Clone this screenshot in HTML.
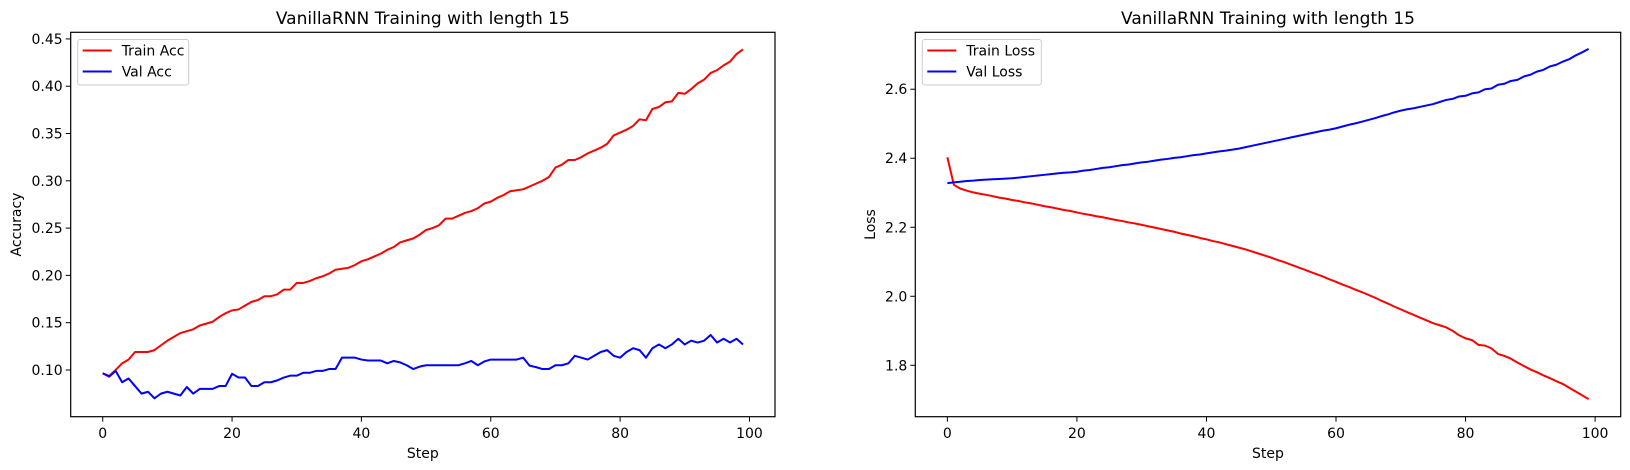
<!DOCTYPE html>
<html><head><meta charset="utf-8"><style>
html,body{margin:0;padding:0;background:#fff;}
svg{display:block;font-family:"DejaVu Sans","Liberation Sans",sans-serif;}
</style></head><body>
<svg id="c" width="1630" height="470" viewBox="0 0 1630 470" xmlns="http://www.w3.org/2000/svg"></svg>
<script>
const steps = Array.from({length:100},(_,i)=>i);
const trainAcc = [0.0965,0.0937,0.100,0.107,0.111,0.119,0.119,0.119,0.121,0.126,0.131,0.135,0.139,0.141,0.143,0.147,0.149,0.151,0.156,0.160,0.163,0.164,0.168,0.172,0.174,0.178,0.178,0.180,0.185,0.185,0.192,0.192,0.194,0.197,0.199,0.202,0.206,0.207,0.208,0.211,0.215,0.217,0.220,0.223,0.227,0.230,0.235,0.237,0.239,0.243,0.248,0.250,0.253,0.260,0.260,0.263,0.266,0.268,0.271,0.276,0.278,0.282,0.285,0.289,0.290,0.291,0.294,0.297,0.300,0.304,0.314,0.317,0.322,0.322,0.325,0.329,0.332,0.335,0.339,0.348,0.351,0.354,0.358,0.365,0.364,0.376,0.378,0.383,0.384,0.393,0.392,0.397,0.403,0.407,0.414,0.417,0.422,0.426,0.434,0.439];
const valAcc = [0.0965,0.093,0.099,0.087,0.091,0.083,0.075,0.077,0.070,0.075,0.077,0.075,0.073,0.082,0.075,0.080,0.080,0.080,0.083,0.083,0.096,0.092,0.092,0.083,0.083,0.087,0.087,0.089,0.092,0.094,0.094,0.097,0.097,0.099,0.099,0.101,0.101,0.113,0.113,0.113,0.111,0.110,0.110,0.110,0.107,0.1095,0.108,0.105,0.101,0.1035,0.105,0.105,0.105,0.105,0.105,0.105,0.107,0.1095,0.105,0.109,0.111,0.111,0.111,0.111,0.111,0.113,0.1046,0.103,0.101,0.101,0.105,0.105,0.107,0.115,0.113,0.111,0.115,0.119,0.121,0.115,0.113,0.119,0.123,0.121,0.113,0.123,0.127,0.123,0.127,0.133,0.127,0.131,0.129,0.131,0.137,0.129,0.133,0.129,0.133,0.127];
const trainLoss = [2.403,2.323,2.312,2.306,2.301,2.297,2.294,2.290,2.286,2.283,2.279,2.276,2.272,2.269,2.265,2.261,2.258,2.254,2.250,2.247,2.243,2.239,2.236,2.232,2.229,2.225,2.221,2.218,2.214,2.211,2.207,2.203,2.199,2.195,2.191,2.187,2.182,2.178,2.174,2.169,2.165,2.160,2.156,2.151,2.146,2.141,2.136,2.130,2.124,2.118,2.112,2.105,2.099,2.092,2.085,2.078,2.071,2.064,2.057,2.049,2.042,2.034,2.027,2.019,2.012,2.004,1.996,1.987,1.979,1.970,1.962,1.954,1.946,1.938,1.930,1.922,1.916,1.910,1.900,1.887,1.878,1.873,1.859,1.857,1.849,1.833,1.827,1.819,1.808,1.798,1.788,1.780,1.771,1.763,1.754,1.746,1.735,1.724,1.713,1.702];
const valLoss = [2.328,2.330,2.332,2.334,2.335,2.337,2.338,2.339,2.340,2.341,2.342,2.344,2.346,2.348,2.350,2.352,2.354,2.356,2.358,2.359,2.361,2.364,2.366,2.369,2.372,2.374,2.377,2.380,2.382,2.385,2.388,2.390,2.393,2.396,2.398,2.401,2.403,2.406,2.409,2.411,2.414,2.417,2.420,2.422,2.425,2.428,2.432,2.436,2.440,2.444,2.448,2.452,2.456,2.460,2.464,2.468,2.472,2.476,2.480,2.483,2.487,2.492,2.497,2.501,2.506,2.511,2.516,2.522,2.527,2.533,2.538,2.542,2.545,2.549,2.553,2.557,2.563,2.569,2.572,2.579,2.581,2.588,2.591,2.600,2.602,2.613,2.616,2.624,2.627,2.637,2.642,2.651,2.656,2.666,2.671,2.680,2.687,2.698,2.707,2.717];
const xTicks = [0,20,40,60,80,100];
const accTicks = [0.10,0.15,0.20,0.25,0.30,0.35,0.40,0.45];
const lossTicks = [1.8,2.0,2.2,2.4,2.6];

const NS="http://www.w3.org/2000/svg";
const svg=document.getElementById('c');
function mk(tag,attrs,parent){const e=document.createElementNS(NS,tag);for(const k in attrs)e.setAttribute(k,attrs[k]);(parent||svg).appendChild(e);return e;}

function panel(o){
  const g=mk('g',{});
  
  
  const L=o.left,R=o.right,T=32.3,B=416.7;
  const xs=v=>L+(v-o.xmin)/(o.xmax-o.xmin)*(R-L);
  const ys=v=>B-(v-o.ymin)/(o.ymax-o.ymin)*(B-T);
  const title=mk('text',{x:(L+R)/2,y:24,'text-anchor':'middle','font-size':17,fill:'#000'},g);
  title.textContent=o.title;
  
  
  xTicks.forEach(t=>{
    const x=xs(t);
    mk('line',{x1:x,x2:x,y1:B,y2:B+5,stroke:'#000','stroke-width':1},g);
    const tx=mk('text',{x:x,y:438,'text-anchor':'middle','font-size':14,fill:'#000'},g);
    tx.textContent=String(t);
    
    
  });
  o.yTicks.forEach(t=>{
    const y=ys(t);
    mk('line',{x1:L-5,x2:L,y1:y,y2:y,stroke:'#000','stroke-width':1},g);
    const ty=mk('text',{x:L-8,y:y+5,'text-anchor':'end','font-size':14,fill:'#000'},g);
    ty.textContent=t.toFixed(o.dec);
    
    
  });
  const xl=mk('text',{x:(L+R)/2,y:458,'text-anchor':'middle','font-size':14,fill:'#000'},g);
  xl.textContent='Step';
  
  
  const yl=mk('text',{x:0,y:0,'text-anchor':'middle','font-size':14,fill:'#000',transform:`translate(${o.ylx},${(T+B)/2}) rotate(-90)`},g);
  yl.textContent=o.ylabel;
  
  
  o.series.forEach(s=>{
    const d=steps.map((st,i)=>(i?'L':'M')+xs(st).toFixed(2)+','+ys(s.data[i]).toFixed(2)).join(' ');
    const p=mk('path',{d:d,fill:'none',stroke:s.color,'stroke-width':2,'stroke-linejoin':'round'},g);
    
    
  });
  mk('rect',{x:L,y:T,width:R-L,height:B-T,fill:'none',stroke:'#000','stroke-width':1.2},g);
  const lg=mk('g',{},g);
  
  
  mk('rect',{x:L+7,y:39.5,width:o.legW,height:45.5,rx:2.5,fill:'#fff','fill-opacity':0.8,stroke:'#ccc','stroke-width':1},lg);
  o.series.forEach((s,i)=>{
    const yy=50.5+i*21;
    mk('line',{x1:L+12,x2:L+41,y1:yy,y2:yy,stroke:s.color,'stroke-width':2},lg);
    const lt=mk('text',{x:L+51,y:yy+5,'font-size':14,fill:'#000'},lg);
    lt.textContent=s.label;
    
    
  });
}
panel({name:'accuracy-panel',left:70.7,right:775,xmin:-4.95,xmax:103.95,ymin:0.0506,ymax:0.457,yTicks:accTicks,dec:2,
  title:'VanillaRNN Training with length 15',ylabel:'Accuracy',ylx:21,legW:111,
  series:[{key:'train-acc-line',label:'Train Acc',color:'#ff0000',data:trainAcc},{key:'val-acc-line',label:'Val Acc',color:'#0000ff',data:valAcc}]});
panel({name:'loss-panel',left:915.3,right:1620.7,xmin:-4.95,xmax:103.95,ymin:1.651,ymax:2.765,yTicks:lossTicks,dec:1,
  title:'VanillaRNN Training with length 15',ylabel:'Loss',ylx:875,legW:119,
  series:[{key:'train-loss-line',label:'Train Loss',color:'#ff0000',data:trainLoss},{key:'val-loss-line',label:'Val Loss',color:'#0000ff',data:valLoss}]});
</script>
</body></html>
